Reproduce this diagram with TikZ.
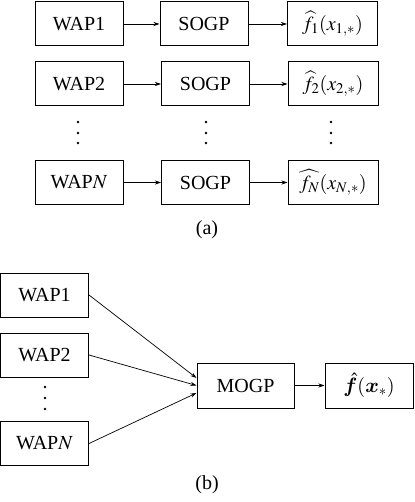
\documentclass[tikz,border=0pt]{standalone}
\usepackage{amsmath,amssymb,bm}
\usepackage{mathptmx}
\usepackage[no-math]{fontspec}
\setmainfont{Liberation Serif}
\usetikzlibrary{arrows.meta,calc}
\begin{document}
\begin{tikzpicture}[x=1pt,y=-1pt,
  box/.style={draw,line width=1pt,minimum height=44pt,inner sep=0pt,font=\fontsize{20}{24}\selectfont},
  wap/.style={box,minimum width=88pt},
  fresbox/.style={box,minimum width=90pt},
  arr/.style={line width=0.7pt,-{Stealth[length=6pt,width=4pt]}},
  dotmark/.style={circle,fill,inner sep=0pt,minimum size=2.8pt},
  captxt/.style={font=\fontsize{20}{24}\selectfont}]
\useasboundingbox (0,0) rectangle (414,502);
% (a)
\node[wap] (w1) at (79,24) {WAP1};
\node[wap] (s1) at (204,24) {SOGP};
\node[fresbox] (f1) at (332.5,24) {$\widehat{f_1}(x_{1,*})$};
\node[wap] (w2) at (79,84) {WAP2};
\node[wap] (s2) at (205.5,84) {SOGP};
\node[fresbox] (f2) at (333,84) {$\widehat{f_2}(x_{2,*})$};
\node[wap] (wn) at (79,182.5) {WAP$N$};
\node[wap] (sn) at (205.5,182.5) {SOGP};
\node[fresbox] (fn) at (333,182.5) {$\widehat{f_N}(x_{N,*})$};
\foreach \c/\x in {a/78,b/206,c/331}{
  \node[dotmark] (\c1) at (\x,122) {};
  \node[dotmark] (\c2) at (\x,133) {};
  \node[dotmark] (\c3) at (\x,143) {};
}
\draw[arr] (w1) -- (s1);
\draw[arr] (s1) -- (f1);
\draw[arr] (w2) -- (s2);
\draw[arr] (s2) -- (f2);
\draw[arr] (wn) -- (sn);
\draw[arr] (sn) -- (fn);
\node[captxt] (la) at (207,230) {(a)};
% (b)
\node[wap] (v1) at (44.5,295) {WAP1};
\node[wap] (v2) at (44.5,355) {WAP2};
\node[wap] (vn) at (44.5,443.5) {WAP$N$};
\node[dotmark] (d1) at (45,387) {};
\node[dotmark] (d2) at (45,398) {};
\node[dotmark] (d3) at (45,409) {};
\node[box,minimum width=97pt,minimum height=45pt] (m) at (245.5,385.5) {MOGP};
\node[wap,minimum height=45pt] (fb) at (369,385.5) {$\hat{\bm f}(\bm x_*)$};
\draw[arr] (v1.east) -- ($(m.west)+(0,-7.5)$);
\draw[arr] (v2.east) -- ($(m.west)+(0,0)$);
\draw[arr] (vn.east) -- ($(m.west)+(0,7.5)$);
\draw[arr] (m) -- (fb);
\node[captxt] (lb) at (207,485) {(b)};
\end{tikzpicture}
\end{document}
